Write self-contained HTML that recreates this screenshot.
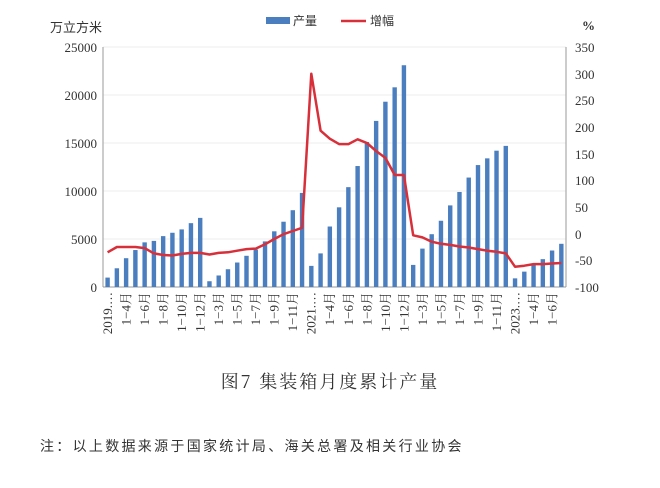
<!DOCTYPE html><html><head><meta charset="utf-8"><style>
body{margin:0;background:#fff;width:660px;height:483px;overflow:hidden}
text{font-family:"Liberation Serif","Noto Serif CJK SC",serif;fill:#333}
</style></head><body>
<svg id="s" width="660" height="483" xmlns="http://www.w3.org/2000/svg">
<g id="grid"></g>
<line x1="103" y1="47" x2="103" y2="287" stroke="#999"/>
<line x1="566" y1="47" x2="566" y2="287" stroke="#999"/>
<line x1="103" y1="287" x2="566" y2="287" stroke="#999"/>
<g id="bars" fill="#4a7ebf"></g>
<polyline id="ln" fill="none" stroke="#d7303a" stroke-width="2.5" stroke-linejoin="round"/>
<g font-size="13" text-anchor="end">
<text x="97" y="52">25000</text><text x="97" y="100">20000</text><text x="97" y="148">15000</text><text x="97" y="196">10000</text><text x="97" y="244">5000</text><text x="97" y="292">0</text>
</g>
<g font-size="13" text-anchor="start">
<text x="575" y="52">350</text><text x="575" y="79">300</text><text x="575" y="105">250</text><text x="575" y="132">200</text><text x="575" y="159">150</text><text x="575" y="185">100</text><text x="575" y="212">50</text><text x="575" y="239">0</text><text x="575" y="265">-50</text><text x="575" y="292">-100</text>
</g>
<text x="50" y="32" font-size="13" style="font-family:'Noto Sans CJK SC',sans-serif">万立方米</text>
<text x="582" y="30" font-size="13" font-weight="bold">%</text>
<rect x="266" y="17" width="24" height="7" fill="#4a7ebf"/>
<text x="293" y="25" font-size="12" style="font-family:'Noto Sans CJK SC',sans-serif">产量</text>
<line x1="341" y1="21" x2="366" y2="21" stroke="#d7303a" stroke-width="2.5"/>
<text x="370" y="25" font-size="12" style="font-family:'Noto Sans CJK SC',sans-serif">增幅</text>
<g font-size="13" text-anchor="end" id="xl">
<text transform="translate(112,292) rotate(-90)">2019.…</text>
<text transform="translate(130.5,292) rotate(-90)">1−4月</text>
<text transform="translate(149,292) rotate(-90)">1−6月</text>
<text transform="translate(167.6,292) rotate(-90)">1−8月</text>
<text transform="translate(186.1,292) rotate(-90)">1−10月</text>
<text transform="translate(204.6,292) rotate(-90)">1−12月</text>
<text transform="translate(223.1,292) rotate(-90)">1−3月</text>
<text transform="translate(241.6,292) rotate(-90)">1−5月</text>
<text transform="translate(260.2,292) rotate(-90)">1−7月</text>
<text transform="translate(278.7,292) rotate(-90)">1−9月</text>
<text transform="translate(297.2,292) rotate(-90)">1−11月</text>
<text transform="translate(315.7,292) rotate(-90)">2021.…</text>
<text transform="translate(334.2,292) rotate(-90)">1−4月</text>
<text transform="translate(352.8,292) rotate(-90)">1−6月</text>
<text transform="translate(371.3,292) rotate(-90)">1−8月</text>
<text transform="translate(389.8,292) rotate(-90)">1−10月</text>
<text transform="translate(408.3,292) rotate(-90)">1−12月</text>
<text transform="translate(426.8,292) rotate(-90)">1−3月</text>
<text transform="translate(445.4,292) rotate(-90)">1−5月</text>
<text transform="translate(463.9,292) rotate(-90)">1−7月</text>
<text transform="translate(482.4,292) rotate(-90)">1−9月</text>
<text transform="translate(500.9,292) rotate(-90)">1−11月</text>
<text transform="translate(519.4,292) rotate(-90)">2023.…</text>
<text transform="translate(538,292) rotate(-90)">1−4月</text>
<text transform="translate(556.5,292) rotate(-90)">1−6月</text>
</g>
<text x="330" y="388" font-size="18" letter-spacing="2" text-anchor="middle" style="font-family:'Noto Serif CJK SC',serif">图7 集装箱月度累计产量</text>
<text x="40" y="451" font-size="14" letter-spacing="2.3" style="font-family:'Noto Sans CJK SC',sans-serif">注：以上数据来源于国家统计局、海关总署及相关行业协会</text>
</svg>
<script>
var v=[980,1950,3000,3850,4650,4800,5300,5650,6000,6650,7200,600,1200,1850,2550,3250,3900,4750,5800,6800,8000,9800,2200,3500,6300,8300,10400,12600,15100,17300,19300,20800,23100,2300,4000,5500,6900,8500,9900,11400,12700,13400,14200,14700,900,1600,2300,2900,3800,4500];
var p=[-35,-25,-25,-25,-27,-37,-40,-41,-38,-36,-36,-39,-36,-35,-32,-29,-28,-20,-10,-1,5,11,300,193,178,168,168,177,170,155,142,110,110,-3,-7,-15,-19,-21,-24,-26,-29,-32,-34,-37,-62,-60,-57,-57,-56,-55];
var ns="http://www.w3.org/2000/svg",b=document.getElementById('bars'),g=document.getElementById('grid'),pts=[];
for(var k=1;k<=5;k++){var l=document.createElementNS(ns,'line');var y=287-48*k;l.setAttribute('x1',103);l.setAttribute('x2',566);l.setAttribute('y1',y);l.setAttribute('y2',y);l.setAttribute('stroke','#eee');g.appendChild(l);}
for(var i=0;i<v.length;i++){var cx=107.6+i*9.26;var h=v[i]*240/25000;var r=document.createElementNS(ns,'rect');r.setAttribute('x',cx-2.2);r.setAttribute('width',4.4);r.setAttribute('y',287-h);r.setAttribute('height',h);b.appendChild(r);pts.push(cx.toFixed(1)+','+(287-(p[i]+100)*240/450).toFixed(1));}
document.getElementById('ln').setAttribute('points',pts.join(' '));
</script>
</body></html>
